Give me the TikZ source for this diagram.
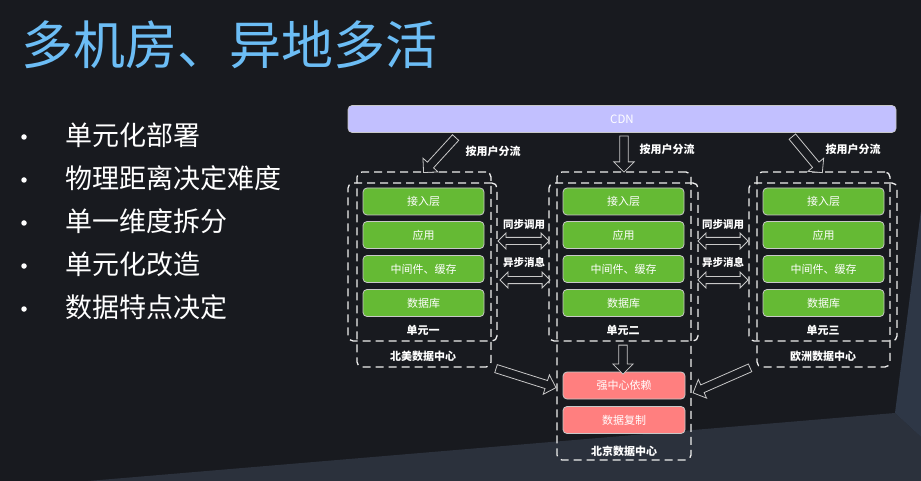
\documentclass[tikz,border=0pt]{standalone}
\usepackage{fontspec}
\setmainfont{Noto Sans CJK SC}
\usetikzlibrary{shapes.arrows,calc}
\definecolor{bgdark}{HTML}{181A1F}
\definecolor{bglight}{HTML}{2B313C}
\definecolor{bgfacet}{HTML}{2E3746}
\definecolor{titleblue}{HTML}{6CBDF5}
\definecolor{cdnfill}{HTML}{C2C0FF}
\definecolor{layergreen}{HTML}{65BA34}
\definecolor{strongred}{HTML}{FF7F7F}
\definecolor{boxedge}{HTML}{C8C8C8}
\definecolor{dashcol}{HTML}{EEEEEE}
\newcommand{\blockarr}[3]{\path let \p1=(#2), \p2=(#3), \n1={atan2(\y2-\y1,\x2-\x1)}, \n2={veclen(\x2-\x1,\y2-\y1)} in node[#1, minimum height=\n2, rotate=\n1] at ($(#2)!0.5!(#3)$) {};}
\begin{document}
\begin{tikzpicture}[x=1pt,y=-1pt,
  titletext/.style={text=titleblue, font=\fontsize{52}{60}\selectfont, anchor=west, inner sep=0},
  bullettext/.style={text=white, font=\fontsize{27}{32}\selectfont, anchor=west, inner sep=0},
  bulletdot/.style={circle, fill=white, minimum size=5.5, inner sep=0},
  cdnbox/.style={rounded corners=4, fill=cdnfill, draw=boxedge, line width=0.6, minimum width=548, minimum height=27, text=white, font=\fontsize{11.5}{13}\selectfont, inner sep=0},
  layer/.style={rounded corners=4, fill=layergreen, draw=boxedge, line width=0.8, minimum width=121, minimum height=27, text=white, font=\fontsize{11}{13}\selectfont, inner sep=0},
  strongbox/.style={layer, fill=strongred, minimum width=122},
  dcbox/.style={draw=dashcol, line width=1.3, dash pattern=on 8pt off 5pt, rounded corners=5, inner sep=0},
  lbl/.style={text=white, font=\fontsize{11}{13}\selectfont\bfseries, inner sep=0},
  smalllbl/.style={text=white, font=\fontsize{10.5}{12}\selectfont\bfseries, inner sep=0},
  hollowarrow/.style={single arrow, draw=boxedge, fill=bgdark, line width=0.8, inner xsep=0, inner ysep=3.8, minimum width=0, single arrow head extend=6, single arrow head indent=0},
  twowayarrow/.style={double arrow, draw=boxedge, fill=bgdark, line width=0.8, inner xsep=0, inner ysep=3.2, minimum width=0, double arrow head extend=4.3, double arrow head indent=0}
]
\useasboundingbox (0,0) rectangle (921,481);
\fill[bgdark] (0,0) rectangle (921,481);
\fill[bglight] (88,481) -- (895,413) -- (921,437) -- (921,481) -- cycle;
\fill[bgfacet] (895,413) -- (921,210) -- (921,437) -- cycle;

% title and bullets
\node[titletext] (title) at (21,45) {多机房、异地多活};
\node[bulletdot] (d1) at (24,137) {};
\node[bulletdot] (d2) at (24,180) {};
\node[bulletdot] (d3) at (24,223) {};
\node[bulletdot] (d4) at (24,266) {};
\node[bulletdot] (d5) at (24,309) {};
\node[bullettext] (t1) at (65,135) {单元化部署};
\node[bullettext] (t2) at (65,178) {物理距离决定难度};
\node[bullettext] (t3) at (65,221) {单一维度拆分};
\node[bullettext] (t4) at (65,264) {单元化改造};
\node[bullettext] (t5) at (65,307) {数据特点决定};

% CDN
\node[cdnbox] (cdn) at (622,119) {CDN};

% data centres and units
\node[dcbox, minimum width=134, minimum height=195] (dcna) at (424,269.5) {};
\node[dcbox, minimum width=149, minimum height=158] (u1) at (422.5,262) {};
\node[dcbox, minimum width=134, minimum height=288] (dcbj) at (624,316) {};
\node[dcbox, minimum width=149, minimum height=158] (u2) at (623.5,262) {};
\node[dcbox, minimum width=133, minimum height=195] (dceu) at (823.5,269.5) {};
\node[dcbox, minimum width=148, minimum height=158] (u3) at (823,262) {};

% layers
\foreach \c/\x in {a/423.5,b/623.5,c/823.5}{
  \node[layer] (\c1) at (\x,201.5) {接入层};
  \node[layer] (\c2) at (\x,235) {应用};
  \node[layer] (\c3) at (\x,269) {中间件、缓存};
  \node[layer] (\c4) at (\x,303) {数据库};
}
\node[strongbox] (dep) at (624,385.5) {强中心依赖};
\node[strongbox] (rep) at (624,420) {数据复制};

% labels
\node[lbl] (l1) at (423,330) {单元一};
\node[lbl] (l2) at (623,330) {单元二};
\node[lbl] (l3) at (823,330) {单元三};
\node[lbl] (n1) at (423,356) {北美数据中心};
\node[lbl] (n2) at (624,451) {北京数据中心};
\node[lbl] (n3) at (823,356) {欧洲数据中心};
\node[lbl] (s1) at (493,151) {按用户分流};
\node[lbl] (s2) at (667,149) {按用户分流};
\node[lbl] (s3) at (853,149) {按用户分流};
\node[smalllbl] (y1) at (524,225) {同步调用};
\node[smalllbl] (y2) at (524,262) {异步消息};
\node[smalllbl] (y3) at (723,225) {同步调用};
\node[smalllbl] (y4) at (723,262) {异步消息};

% arrow end points
\coordinate (c1) at (457,136);  \coordinate (c1h) at (425,171);
\coordinate (c2) at (624,134);  \coordinate (c2h) at (624,170);
\coordinate (c3) at (791,135);  \coordinate (c3h) at (821,171);
\coordinate (u2t) at (623,343); \coordinate (u2h) at (623,372);
\coordinate (nat) at (494,368); \coordinate (nah) at (554,387);
\coordinate (eut) at (752,367); \coordinate (euh) at (695,392);
\coordinate (ls1) at (498,241); \coordinate (ls2) at (549,241);
\coordinate (la1) at (500,280); \coordinate (la2) at (550,280);
\coordinate (rs1) at (698,241); \coordinate (rs2) at (748,241);
\coordinate (ra1) at (698,280); \coordinate (ra2) at (748,280);

\blockarr{hollowarrow,name=ar1}{c1}{c1h}
\blockarr{hollowarrow,name=ar2}{c2}{c2h}
\blockarr{hollowarrow,name=ar3}{c3}{c3h}
\blockarr{hollowarrow,name=ar4}{u2t}{u2h}
\blockarr{hollowarrow,name=ar5}{nat}{nah}
\blockarr{hollowarrow,name=ar6}{eut}{euh}
\blockarr{twowayarrow,name=dw1}{ls1}{ls2}
\blockarr{twowayarrow,name=dw2}{la1}{la2}
\blockarr{twowayarrow,name=dw3}{rs1}{rs2}
\blockarr{twowayarrow,name=dw4}{ra1}{ra2}
\end{tikzpicture}
\end{document}
